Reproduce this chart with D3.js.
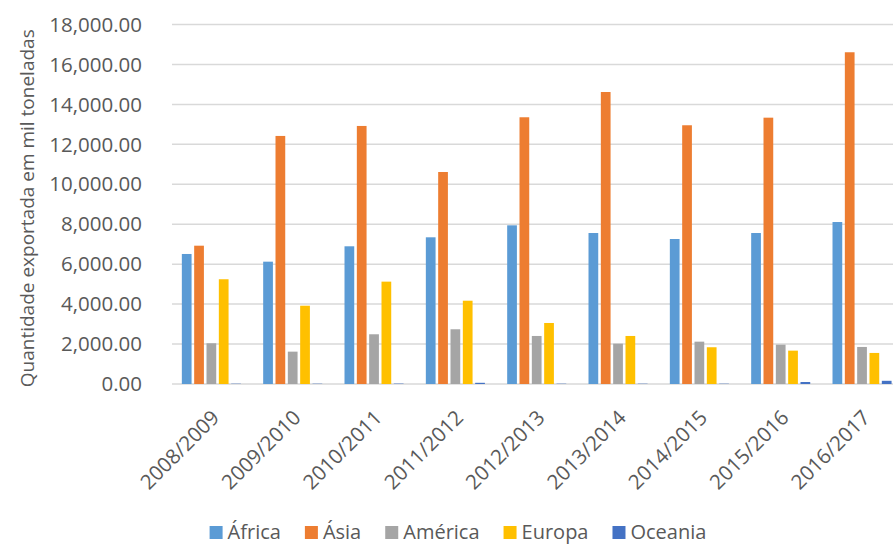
<!DOCTYPE html>
<html>
<head>
<meta charset="utf-8">
<script src="https://cdn.jsdelivr.net/npm/d3@7"></script>
<style>
  html, body { margin: 0; padding: 0; background: #fff; }
  svg { display: block; }
  text { font-family: "Open Sans", "DejaVu Sans", sans-serif; fill: #595959; }
</style>
</head>
<body>
<svg id="chart" width="893" height="545"></svg>
<script>
// Safra (season) labels on the category axis
const categories = ["2008/2009", "2009/2010", "2010/2011", "2011/2012", "2012/2013",
                    "2013/2014", "2014/2015", "2015/2016", "2016/2017"];

// Exported quantity per continent, thousand tonnes
const africa  = [6510, 6125, 6895, 7345, 7945, 7560, 7260, 7560, 8110];
const asia    = [6925, 12420, 12920, 10615, 13355, 14620, 12955, 13335, 16610];
const america = [2040, 1620, 2490, 2740, 2405, 2020, 2120, 1970, 1855];
const europa  = [5245, 3920, 5125, 4170, 3055, 2405, 1840, 1670, 1555];
const oceania = [15, 15, 20, 60, 15, 15, 15, 100, 160];

const seriesNames = ["África", "Ásia", "América", "Europa", "Oceania"];
const seriesValues = [africa, asia, america, europa, oceania];
const seriesColors = ["#5B9BD5", "#ED7D31", "#A5A5A5", "#FFC000", "#4472C4"];

const yTicks = [0, 2000, 4000, 6000, 8000, 10000, 12000, 14000, 16000, 18000];
const yTitle = "Quantidade exportada em mil toneladas";

const svg = d3.select("#chart");

const plot = { left: 172, right: 904, top: 24.5, bottom: 384 };

const x0 = d3.scaleBand()
  .domain(categories)
  .range([plot.left, plot.right])
  .paddingInner(0.242)
  .paddingOuter(0.121);

const x1 = d3.scaleBand()
  .domain(seriesNames)
  .range([0, x0.bandwidth()]);

const barGap = 2.6;

const y = d3.scaleLinear()
  .domain([0, 18000])
  .range([plot.bottom, plot.top]);

// Horizontal gridlines
svg.append("g")
  .selectAll("line")
  .data(yTicks)
  .join("line")
  .attr("x1", plot.left)
  .attr("x2", plot.right)
  .attr("y1", d => y(d))
  .attr("y2", d => y(d))
  .attr("stroke", "#D9D9D9")
  .attr("stroke-width", 1.5);

// Y tick labels
const fmt = d3.format(",.2f");
svg.append("g")
  .selectAll("text")
  .data(yTicks)
  .join("text")
  .attr("x", 142)
  .attr("y", d => y(d))
  .attr("dy", "0.35em")
  .attr("text-anchor", "end")
  .style("font-size", "20.5px")
  .text(d => fmt(d));

// Bars, one group per season
const groups = svg.append("g")
  .selectAll("g")
  .data(categories)
  .join("g")
  .attr("transform", d => `translate(${x0(d)},0)`);

groups.selectAll("rect")
  .data((c, i) => seriesNames.map((s, k) => ({ s, k, v: seriesValues[k][i] })))
  .join("rect")
  .attr("x", d => x1(d.s))
  .attr("width", x1.bandwidth() - barGap)
  .attr("y", d => y(d.v))
  .attr("height", d => y(0) - y(d.v))
  .attr("fill", d => seriesColors[d.k]);

// Category labels, rotated
svg.append("g")
  .selectAll("text")
  .data(categories)
  .join("text")
  .attr("transform", d => `translate(${x0(d) + x0.bandwidth() / 2 + 8},419) rotate(-45)`)
  .attr("text-anchor", "end")
  .style("font-size", "20.5px")
  .text(d => d);

// Y axis title
svg.append("text")
  .attr("transform", `translate(34,${(plot.top + plot.bottom) / 2 + 4}) rotate(-90)`)
  .attr("text-anchor", "middle")
  .style("font-size", "19px")
  .text(yTitle);

// Legend
const legend = svg.append("g");
const items = legend.selectAll("g")
  .data(seriesNames)
  .join("g");
items.append("rect")
  .attr("width", 13)
  .attr("height", 13)
  .attr("y", 526)
  .attr("fill", (d, i) => seriesColors[i]);
items.append("text")
  .attr("x", 18)
  .attr("y", 539)
  .style("font-size", "20px")
  .text(d => d);
const widths = [];
items.each(function () { widths.push(this.getBBox().width); });
const spacing = 24;
const total = d3.sum(widths) + spacing * (widths.length - 1);
let cursor = 458 - total / 2;
items.attr("transform", (d, i) => {
  const t = `translate(${cursor},0)`;
  cursor += widths[i] + spacing;
  return t;
});
</script>
</body>
</html>
